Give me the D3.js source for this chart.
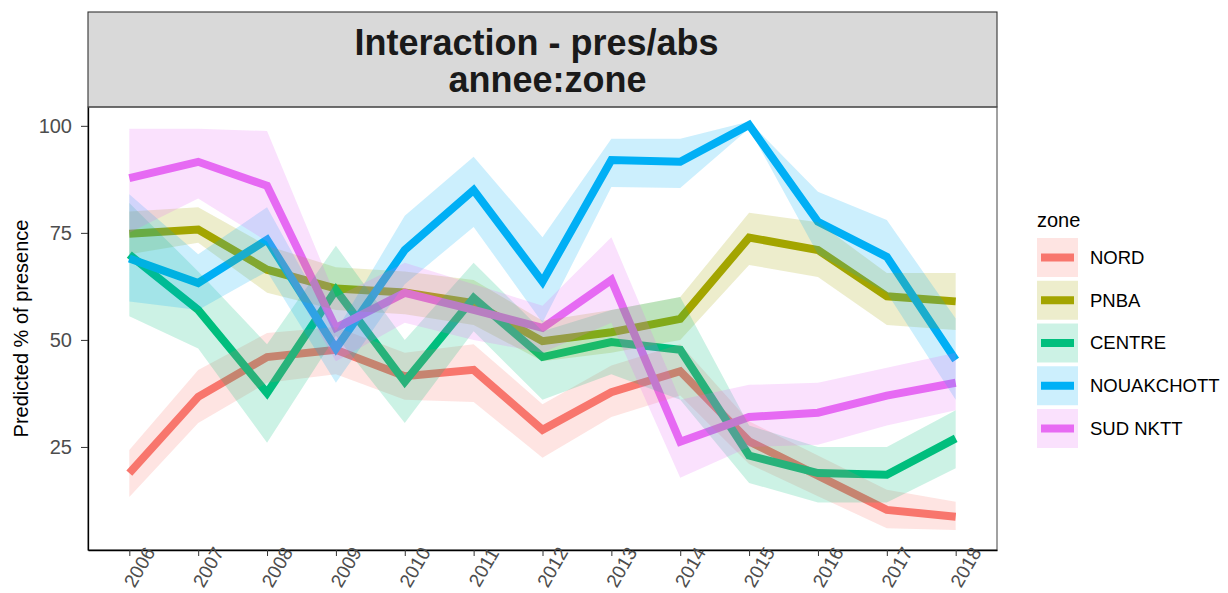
<!DOCTYPE html>
<html>
<head>
<meta charset="utf-8">
<script src="https://cdn.jsdelivr.net/npm/d3@7"></script>
<style>
  body { margin: 0; background: #fff; }
  text { font-family: "Liberation Sans", Arial, sans-serif; }
</style>
</head>
<body>
<svg width="1228" height="593"></svg>
<script>
// data
var years = ["2006","2007","2008","2009","2010","2011","2012","2013","2014","2015","2016","2017","2018"];
var zones = ["NORD", "PNBA", "CENTRE", "NOUAKCHOTT", "SUD NKTT"];
var colors = ["#F8766D", "#A3A500", "#00BF7D", "#00B0F6", "#E76BF3"];

var nordFit = [18.9, 36.7, 46, 47.7, 41.5, 43, 29, 37.8, 42.7, 26.3, 18.3, 10.3, 8.7];
var nordLo  = [13.3, 30.6, 40, 42, 36, 35.5, 22.5, 32, 37, 21, 13.5, 6, 5.6];
var nordHi  = [24.3, 43, 51.6, 53, 47, 49, 35, 44, 49, 31, 23, 15, 12.2];

var pnbaFit = [74.8, 75.8, 66.4, 62, 61.1, 58.6, 49.7, 51.8, 54.9, 73.9, 71, 60.2, 59];
var pnbaLo  = [70, 72.7, 61, 57, 56, 53.5, 45, 47, 50, 67.5, 64.7, 53.5, 52.3];
var pnbaHi  = [80, 81, 72, 67, 66, 64, 54.5, 57, 60, 79.7, 77.5, 65.6, 65.6];

var centreFit = [69.9, 57, 37.6, 61.7, 40.2, 59.8, 46, 49.5, 47.7, 23, 18.9, 18.5, 27];
var centreLo  = [55.5, 48, 26, 51, 30.6, 52, 36, 42, 36, 16.6, 12, 12, 20];
var centreHi  = [82, 66, 49, 72, 50, 68, 52, 57, 60, 30, 25, 25, 33.6];

var nouakFit = [69, 63.3, 73.4, 48, 71, 85, 63.6, 92, 91.6, 100.2, 77.6, 69.4, 45.3];
var nouakLo  = [59, 57, 66, 40, 63, 76.4, 54, 85.7, 85.5, 99.4, 70, 61, 36];
var nouakHi  = [84, 70, 81, 52, 79, 92.8, 74, 97, 97, 101, 84.6, 78, 55];

var sudFit = [87.8, 91.6, 86, 52.8, 61, 57, 52.8, 64, 26.2, 32, 33, 37, 40];
var sudLo  = [75, 83, 73, 45, 54, 50, 47, 54, 17.8, 25, 25.5, 30, 33.6];
var sudHi  = [99.3, 99.3, 98.8, 60, 68, 63, 58, 74, 36, 39.5, 40, 43.5, 47];

var fits = [nordFit, pnbaFit, centreFit, nouakFit, sudFit];
var lows = [nordLo, pnbaLo, centreLo, nouakLo, sudLo];
var highs = [nordHi, pnbaHi, centreHi, nouakHi, sudHi];

var yTicks = [25, 50, 75, 100];

var svg = d3.select("svg"),
    margin = {top: 107, right: 231, bottom: 43, left: 88},
    width = +svg.attr("width") - margin.left - margin.right,
    height = +svg.attr("height") - margin.top - margin.bottom;

var x = d3.scalePoint()
    .domain(years)
    .range([0, width])
    .padding(0.6);
var y = d3.scaleLinear()
    .domain([0.93, 104.4])
    .range([height, 0]);

var series = zones.map(function(z, i) {
    return {
        name: z,
        color: colors[i],
        pts: years.map(function(yr, j) {
            return {year: yr, fit: fits[i][j], lo: lows[i][j], hi: highs[i][j]};
        })
    };
});

// strip with title
var cx = margin.left + width / 2;
svg.append("rect")
    .attr("x", margin.left).attr("y", 12)
    .attr("width", width).attr("height", margin.top - 12)
    .attr("fill", "#D9D9D9")
    .attr("stroke", "#333").attr("stroke-width", 1.1);

svg.append("text")
    .attr("x", cx - 6).attr("y", 55)
    .attr("text-anchor", "middle")
    .style("font-size", "36px").style("font-weight", "bold").attr("fill", "#1a1a1a")
    .text("Interaction - pres/abs");
svg.append("text")
    .attr("x", cx + 5).attr("y", 92)
    .attr("text-anchor", "middle")
    .style("font-size", "36px").style("font-weight", "bold").attr("fill", "#1a1a1a")
    .text("annee:zone");

var focus = svg.append("g")
    .attr("transform", "translate(" + margin.left + "," + margin.top + ")");

focus.append("clipPath").attr("id", "clip")
    .append("rect").attr("width", width).attr("height", height);

var line = d3.line()
    .x(function(d) { return x(d.year); })
    .y(function(d) { return y(d.fit); });
var area = d3.area()
    .x(function(d) { return x(d.year); })
    .y0(function(d) { return y(d.lo); })
    .y1(function(d) { return y(d.hi); });

var plot = focus.append("g").attr("clip-path", "url(#clip)");

// lines first, ribbons on top
plot.selectAll(".line")
    .data(series)
    .enter()
    .append("path")
    .attr("class", "line")
    .attr("d", function(d) { return line(d.pts); })
    .attr("fill", "none")
    .attr("stroke", function(d) { return d.color; })
    .attr("stroke-width", 8)
    .attr("stroke-linejoin", "miter")
    .attr("stroke-linecap", "butt");

plot.selectAll(".band")
    .data(series)
    .enter()
    .append("path")
    .attr("class", "band")
    .attr("d", function(d) { return area(d.pts); })
    .attr("fill", function(d) { return d.color; })
    .attr("fill-opacity", 0.2);

focus.append("rect")
    .attr("width", width).attr("height", height)
    .attr("fill", "none").attr("stroke", "#555").attr("stroke-width", 1.1);

var xAxis = focus.append("g")
    .attr("transform", "translate(0," + height + ")")
    .call(d3.axisBottom(x).tickSizeInner(6).tickSizeOuter(0));
xAxis.select(".domain").attr("stroke", "#000").attr("stroke-width", 1.3);
xAxis.selectAll(".tick line").attr("stroke", "#333");
xAxis.selectAll(".tick text")
    .attr("fill", "#4D4D4D")
    .style("font-size", "19px")
    .style("font-family", "'Liberation Sans', Arial, sans-serif")
    .attr("text-anchor", "middle")
    .attr("dy", null)
    .attr("y", null)
    .attr("transform", "translate(11,18) rotate(-60)")
    .attr("dominant-baseline", "middle");

var yAxis = focus.append("g")
    .call(d3.axisLeft(y).tickValues(yTicks).tickSizeInner(7).tickSizeOuter(0));
yAxis.select(".domain").attr("stroke", "#000").attr("stroke-width", 1.3);
yAxis.selectAll(".tick line").attr("stroke", "#333");
yAxis.selectAll(".tick text")
    .attr("fill", "#4D4D4D")
    .style("font-size", "20px")
    .style("font-family", "'Liberation Sans', Arial, sans-serif")
    .attr("x", -16);

svg.append("text")
    .attr("transform", "translate(28," + (margin.top + height / 2) + ") rotate(-90)")
    .attr("text-anchor", "middle")
    .style("font-size", "20px")
    .attr("fill", "#000")
    .text("Predicted % of presence");

// legend
var legend = svg.append("g").attr("transform", "translate(1037,0)");
legend.append("text")
    .attr("x", 0).attr("y", 227)
    .style("font-size", "20px").attr("fill", "#000")
    .text("zone");

var keys = legend.selectAll(".key")
    .data(series)
    .enter()
    .append("g")
    .attr("class", "key")
    .attr("transform", function(d, i) { return "translate(0," + (238 + i * 42.75) + ")"; });
keys.append("rect")
    .attr("width", 41).attr("height", 39)
    .attr("fill", function(d) { return d.color; })
    .attr("fill-opacity", 0.2);
keys.append("line")
    .attr("x1", 4).attr("x2", 37)
    .attr("y1", 19.5).attr("y2", 19.5)
    .attr("stroke", function(d) { return d.color; })
    .attr("stroke-width", 8);
keys.append("text")
    .attr("x", 53).attr("y", 19.5)
    .attr("dy", "0.35em")
    .style("font-size", "18.5px").attr("fill", "#000")
    .text(function(d) { return d.name; });
</script>
</body>
</html>
